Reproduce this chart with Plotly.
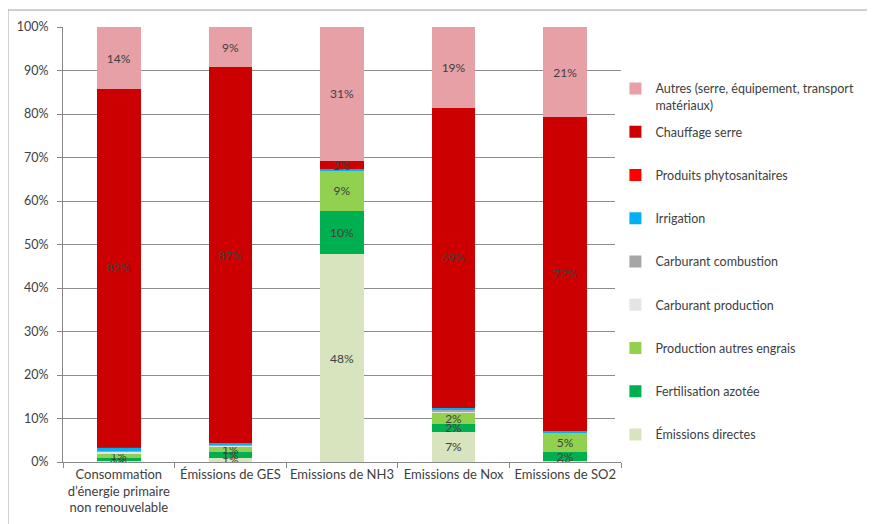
import plotly.graph_objects as go

categories = [
    "Consommation<br>d’énergie primaire<br>non renouvelable",
    "Émissions de GES",
    "Emissions de NH3",
    "Emissions de Nox",
    "Emissions de SO2",
]

# series in stacking order (bottom -> top), values in %
series_names = [
    "Émissions directes",
    "Fertilisation azotée",
    "Production autres engrais",
    "Carburant production",
    "Carburant combustion",
    "Irrigation",
    "Produits phytosanitaires",
    "Chauffage serre",
    "Autres (serre, équipement, transport<br>matériaux)",
]
emissions_directes = [0.2, 1.0, 47.8, 7.0, 0.2]
fertilisation_azotee = [0.7, 1.3, 10.0, 1.8, 2.0]
production_autres_engrais = [1.1, 1.2, 9.3, 2.4, 4.6]
carburant_production = [0.3, 0.2, 0.0, 0.5, 0.0]
carburant_combustion = [0.3, 0.3, 0.0, 0.4, 0.0]
irrigation = [0.8, 0.3, 0.2, 0.3, 0.4]
produits_phyto = [0.1, 0.0, 0.0, 0.0, 0.0]
chauffage_serre = [82.2, 86.5, 1.9, 69.0, 72.1]
autres = [14.3, 9.2, 30.8, 18.6, 20.7]

# data labels as displayed on the chart ("" = no visible label)
labels_directes = ["0%", "1%", "48%", "7%", "0%"]
labels_fertilisation = ["1%", "1%", "10%", "2%", "2%"]
labels_prod_engrais = ["1%", "1%", "9%", "2%", "5%"]
labels_carb_prod = ["", "", "", "", ""]
labels_carb_comb = ["", "", "", "", ""]
labels_irrigation = ["", "", "", "", ""]
labels_phyto = ["", "", "", "", ""]
labels_chauffage = ["82%", "87%", "2%", "69%", "72%"]
labels_autres = ["14%", "9%", "31%", "19%", "21%"]

values = [emissions_directes, fertilisation_azotee, production_autres_engrais,
          carburant_production, carburant_combustion, irrigation,
          produits_phyto, chauffage_serre, autres]
labels = [labels_directes, labels_fertilisation, labels_prod_engrais,
          labels_carb_prod, labels_carb_comb, labels_irrigation,
          labels_phyto, labels_chauffage, labels_autres]
colors = ["#D7E4BD", "#00B050", "#92D050", "#E4E4E4", "#A6A6A6",
          "#00B0F0", "#FF0000", "#CC0000", "#E6A0A6"]

fig = go.Figure()
n = len(series_names)
for i, (name, vals, txt, col) in enumerate(zip(series_names, values, labels, colors)):
    fig.add_trace(go.Bar(
        x=categories, y=vals, name=name, marker_color=col,
        marker_line_width=0,
        text=txt, textposition="inside", insidetextanchor="middle",
        constraintext="none", textangle=0,
        textfont=dict(family="Lato, sans-serif", size=12, color="#404040"),
        legendgroup=f"g{i}", legendrank=100 + (n - i),
        legend="legend" if i == n - 1 else "legend2",
        hoverinfo="x+y+name",
    ))

legend_font = dict(family="Lato, sans-serif", size=12.5, color="#404040")
fig.update_layout(
    barmode="stack",
    bargap=0.61,
    width=875, height=524,
    margin=dict(l=55, r=262, t=19, b=70, autoexpand=False),
    paper_bgcolor="white", plot_bgcolor="white",
    font=dict(family="Lato, sans-serif", size=13, color="#404040"),
    legend=dict(
        x=0.99, xanchor="left", y=0.892, yanchor="top",
        valign="top", font=legend_font, itemwidth=30,
    ),
    legend2=dict(
        traceorder="grouped",
        tracegroupgap=24,
        x=0.99, xanchor="left", y=0.793, yanchor="top",
        valign="top", font=legend_font, itemwidth=30,
    ),
    showlegend=True,
    shapes=[dict(type="rect", xref="paper", yref="paper",
                 x0=-0.0986, x1=1.5, y0=-0.3, y1=1.039,
                 line=dict(color="#A0A0A0", width=1), layer="below")],
)
fig.update_xaxes(
    type="category",
    showline=True, linecolor="#888888", linewidth=1,
    ticks="outside", tickson="boundaries", ticklen=5, tickcolor="#888888",
    tickfont=dict(size=13, color="#404040"), tickangle=0,
    showgrid=False, automargin=False,
)
fig.update_yaxes(
    range=[0, 100], dtick=10, ticksuffix="%",
    showline=True, linecolor="#888888", linewidth=1,
    gridcolor="#8C8C8C", gridwidth=1,
    ticks="outside", ticklen=5, tickcolor="#888888",
    ticklabelstandoff=6,
    tickfont=dict(size=12.5, color="#404040"),
    zeroline=False, automargin=False,
)
fig.write_html("out.html")
